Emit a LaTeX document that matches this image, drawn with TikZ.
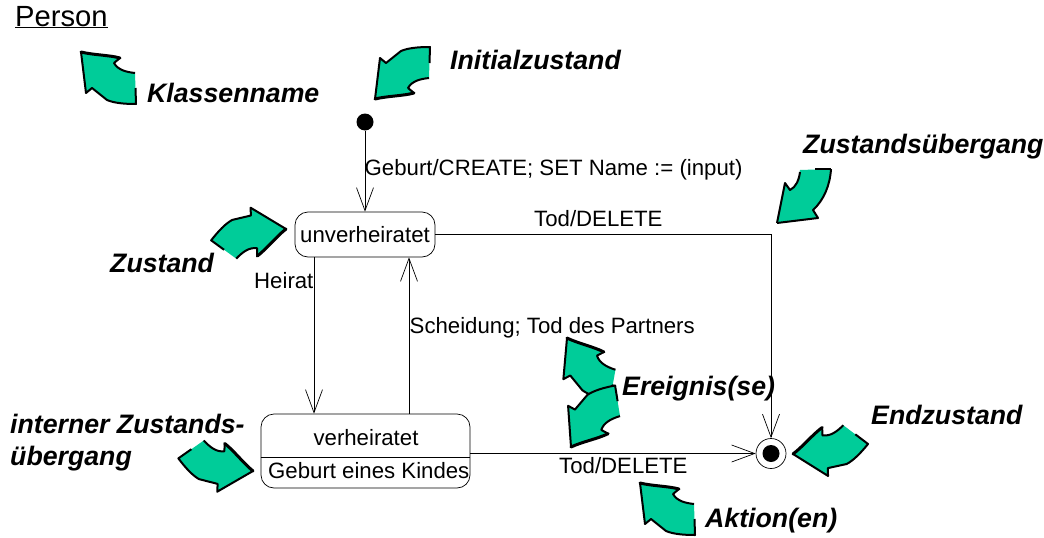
\documentclass[tikz,border=0pt]{standalone}
\usepackage{fontspec}
\usepackage{xcolor}
\setmainfont{Liberation Sans}
\usetikzlibrary{arrows.meta}
\definecolor{calloutgreen}{HTML}{00CC99}
\tikzset{
  plain/.style={anchor=base west,inner sep=0pt,font=\fontsize{22.2}{26}\selectfont},
  note/.style={anchor=base west,inner sep=0pt,font=\fontsize{26.7}{31}\selectfont\bfseries\itshape},
  zustand/.style={draw,line width=.7pt,rounded corners=13pt,inner sep=0pt},
  trans/.style={line width=.9pt,-{Straight Barb[length=23pt,width=17pt,line width=.7pt]}},
  calloutb/.pic={
    \fill[calloutgreen] (0,0) .. controls (12,3) and (28,3) .. (39,6) -- (33,11)
      .. controls (37,18) and (45,20) .. (54,21) -- (55,52)
      .. controls (43,52) and (33,51) .. (26,48) -- (11,36) -- (5,41) -- cycle;
    \draw[line width=2pt,line join=round] (54.5,36) -- (55,52)
      .. controls (43,52) and (33,51) .. (26,48) -- (11,36) -- (5,41) -- (0,0);
    \draw[line width=3pt,line cap=round] (0,0) .. controls (12,3) and (28,3) .. (39,6);
    \draw[line width=2pt,line join=round] (39,6) -- (33,11)
      .. controls (37,18) and (45,20) .. (54,21);
  }
}
\begin{document}
\begin{tikzpicture}[x=1pt,y=-1pt]
\useasboundingbox (0,0) rectangle (1044,538);
% states
\node[zustand,minimum width=140pt,minimum height=45pt,font=\fontsize{22.2}{26}\selectfont] (unverh) at (365,234.5) {unverheiratet};
\node[zustand,minimum width=209pt,minimum height=74pt] (verh) at (365.5,451) {};
\coordinate (teil) at (365,457);
\draw[line width=.7pt] (verh.west |- teil) -- (verh.east |- teil);
\node[plain,anchor=base] (verhname) at (366,445) {verheiratet};
\node[plain] (kind) at (268,478) {Geburt eines Kindes};
\node[circle,fill,inner sep=0pt,minimum size=17pt] (start) at (365,122) {};
\node[circle,draw,line width=.7pt,inner sep=0pt,minimum size=30pt] (ende) at (771,453.5) {};
\node[circle,fill,inner sep=0pt,minimum size=17pt] (endedot) at (771,453.5) {};

% transitions
\coordinate (heirat) at (314,0);
\coordinate (scheid) at (409,0);
\draw[trans] (start.south) -- (unverh.north);
\draw[trans] (unverh.east) -| (ende.north);
\draw[trans] (unverh.south -| heirat) -- (verh.north -| heirat);
\draw[trans] (verh.north -| scheid) -- (unverh.south -| scheid);
\draw[trans] (verh.east |- ende.west) -- (ende.west);

% transition labels
\node[plain] (lgeburt) at (364.5,175) {Geburt/CREATE; SET Name := (input)};
\node[plain] (ltod) at (534,226) {Tod/DELETE};
\node[plain] (lheirat) at (254,288) {Heirat};
\node[plain] (lscheid) at (409.5,333) {Scheidung; Tod des Partners};
\node[plain] (ltodb) at (559,473) {Tod/DELETE};

% class name
\node[plain,font=\fontsize{29.2}{34}\selectfont] (person) at (15,26) {\underline{Person}};

% callouts
\pic at (81,52) {calloutb};
\pic[yscale=-1] at (375,99) {calloutb};
\pic[rotate=-128] at (286,229) {calloutb};
\pic[rotate=-233,yscale=-1] at (253,471) {calloutb};
\pic[rotate=-12] at (567,338) {calloutb};
\pic[rotate=11,yscale=-1] at (571,447) {calloutb};
\pic[rotate=51] at (793,454) {calloutb};
\pic at (640,483) {calloutb};
\fill[calloutgreen] (777,223) -- (785,183) -- (790,190) .. controls (796,187) and (799,180) .. (800,170)
  -- (831,169) .. controls (830,185) and (824,200) .. (813,210) -- (818,218) -- cycle;
\draw[line width=2pt,line join=round] (777,223) -- (818,218) -- (813,210)
  .. controls (824,200) and (830,185) .. (831,169);
\draw[line width=2pt,line join=round] (777,223) -- (785,183) -- (790,190) .. controls (796,187) and (799,180) .. (800,172);
\draw[line width=2pt] (815,169) -- (831,169);

% callout labels
\node[note] (lklasse) at (147,102) {Klassenname};
\node[note] (linit) at (450,69) {Initialzustand};
\node[note] (lueber) at (803,153) {Zustandsübergang};
\node[note] (lzustand) at (110,272) {Zustand};
\node[note] (lintern) at (10,433) {interner Zustands-};
\node[note] (linternb) at (10,465) {übergang};
\node[note] (lereignis) at (622,395) {Ereignis(se)};
\node[note] (lende) at (871,424) {Endzustand};
\node[note] (laktion) at (705,527) {Aktion(en)};
\end{tikzpicture}
\end{document}
